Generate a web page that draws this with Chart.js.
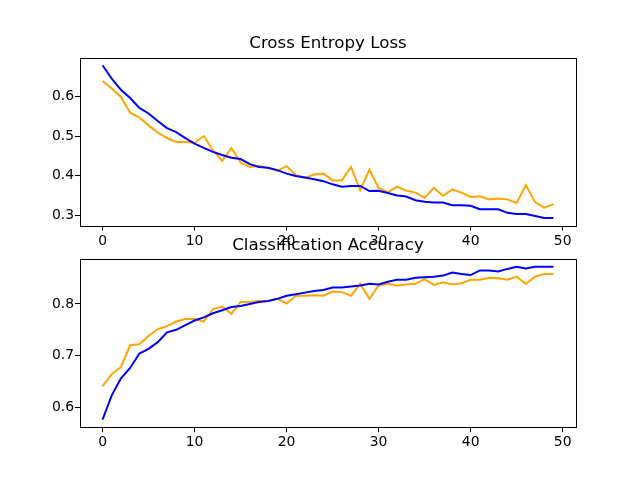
<!DOCTYPE html>
<html>
<head>
<meta charset="utf-8">
<script src="https://cdn.jsdelivr.net/npm/chart.js@4.4.1/dist/chart.umd.min.js"></script>
<style>
  html, body { margin: 0; padding: 0; background: #fff; }
  #wrap { position: relative; width: 640px; height: 480px; overflow: hidden; }
  canvas { position: absolute; left: 0; }
  #chartLoss { top: 0; }
  #chartAcc { top: 230px; }
</style>
</head>
<body>
<div id="wrap">
  <canvas id="chartLoss" width="640" height="260"></canvas>
  <canvas id="chartAcc" width="640" height="250"></canvas>
</div>
<script>
'use strict';

// ─── Data ─────────────────────────────────────────────────────────────────────
const epochs = [0, 1, 2, 3, 4, 5, 6, 7, 8, 9, 10, 11, 12, 13, 14, 15, 16, 17, 18, 19,
  20, 21, 22, 23, 24, 25, 26, 27, 28, 29, 30, 31, 32, 33, 34, 35, 36, 37, 38, 39,
  40, 41, 42, 43, 44, 45, 46, 47, 48, 49];

const trainLoss = [0.679, 0.645, 0.617, 0.596, 0.571, 0.557, 0.538, 0.520, 0.510, 0.495,
  0.481, 0.470, 0.460, 0.452, 0.445, 0.442, 0.429, 0.422, 0.420, 0.414,
  0.405, 0.399, 0.395, 0.391, 0.386, 0.378, 0.372, 0.374, 0.374, 0.361,
  0.362, 0.356, 0.350, 0.347, 0.338, 0.334, 0.332, 0.332, 0.325, 0.325,
  0.324, 0.315, 0.315, 0.315, 0.306, 0.303, 0.303, 0.298, 0.293, 0.293];

const valLoss = [0.639, 0.620, 0.599, 0.559, 0.547, 0.527, 0.509, 0.495, 0.485, 0.485,
  0.483, 0.500, 0.464, 0.437, 0.470, 0.433, 0.422, 0.425, 0.419, 0.412,
  0.424, 0.401, 0.395, 0.403, 0.405, 0.388, 0.388, 0.422, 0.363, 0.415,
  0.369, 0.358, 0.372, 0.362, 0.357, 0.344, 0.369, 0.349, 0.365, 0.357,
  0.346, 0.348, 0.340, 0.342, 0.340, 0.331, 0.376, 0.333, 0.319, 0.328];

const trainAcc = [0.576, 0.623, 0.656, 0.676, 0.704, 0.713, 0.726, 0.745, 0.750, 0.759,
  0.768, 0.774, 0.782, 0.788, 0.794, 0.796, 0.800, 0.804, 0.806, 0.810,
  0.816, 0.819, 0.822, 0.825, 0.827, 0.832, 0.832, 0.834, 0.836, 0.839,
  0.838, 0.843, 0.847, 0.847, 0.851, 0.852, 0.853, 0.855, 0.861, 0.858,
  0.856, 0.865, 0.865, 0.863, 0.868, 0.872, 0.869, 0.872, 0.872, 0.872];

const valAcc = [0.641, 0.664, 0.678, 0.720, 0.722, 0.738, 0.751, 0.757, 0.766, 0.771,
  0.771, 0.766, 0.790, 0.795, 0.781, 0.804, 0.804, 0.806, 0.806, 0.810,
  0.801, 0.816, 0.816, 0.817, 0.816, 0.824, 0.823, 0.816, 0.839, 0.810,
  0.836, 0.839, 0.836, 0.838, 0.839, 0.848, 0.837, 0.842, 0.838, 0.840,
  0.847, 0.847, 0.851, 0.850, 0.847, 0.853, 0.839, 0.853, 0.858, 0.858];

const xTicks = [0, 10, 20, 30, 40, 50];
const lossTicks = [0.3, 0.4, 0.5, 0.6];
const accTicks = [0.6, 0.7, 0.8];

// ─── Helpers ──────────────────────────────────────────────────────────────────
const FONT = "'DejaVu Sans', sans-serif";
const TICK_PX = 13.9;
const BLUE = '#0000ff';
const ORANGE = '#ffa500';

// matplotlib-style autoscale: 5% margin on each side
function padRange(values) {
  const lo = Math.min(...values), hi = Math.max(...values);
  const m = (hi - lo) * 0.05;
  return { min: lo - m, max: hi + m };
}

// black box round the plot area, drawn over the lines like mpl spines
const frame = {
  id: 'frame',
  afterDraw(chart) {
    const a = chart.chartArea, ctx = chart.ctx;
    ctx.save();
    ctx.strokeStyle = '#000';
    ctx.lineWidth = 1;
    ctx.strokeRect(Math.round(a.left) + 0.5, Math.round(a.top) + 0.5,
      Math.round(a.right - a.left), Math.round(a.bottom - a.top));
    ctx.restore();
  }
};

// centre the title over the plot area only (mpl style), not over the y axis too
const titleOverPlot = {
  id: 'titleOverPlot',
  afterLayout(chart) {
    const t = chart.titleBlock, a = chart.chartArea;
    if (!t) return;
    t.left = a.left;
    t.right = a.right;
    t.width = a.right - a.left;
  }
};

function axis(range, tickVals, fmt, fitSize, isX) {
  return {
    type: 'linear',
    min: range.min,
    max: range.max,
    afterBuildTicks: s => { s.ticks = tickVals.map(v => ({ value: v })); },
    afterFit: s => { if (isX) s.height = fitSize; else s.width = fitSize; },
    ticks: {
      color: '#000',
      font: { family: FONT, size: TICK_PX },
      padding: isX ? 2 : 1,
      maxRotation: 0,
      autoSkip: false,
      callback: v => fmt(v),
    },
    grid: {
      drawOnChartArea: false,
      drawTicks: true,
      tickLength: 5,
      tickColor: '#000',
      tickWidth: 1,
    },
    border: { display: false },
  };
}

function lossLine(label, data, color) {
  return {
    label: label,
    data: data,
    borderColor: color,
    backgroundColor: color,
    borderWidth: 2,
    pointRadius: 0,
    tension: 0,
    fill: false,
  };
}

function makeChart(id, title, titlePad, series, yTicks, xAxisHeight) {
  const all = [].concat(...series.map(s => s.data));
  const xRange = padRange(epochs);
  return new Chart(document.getElementById(id), {
    type: 'line',
    data: { labels: epochs, datasets: series },
    options: {
      responsive: false,
      animation: false,
      events: [],
      layout: { padding: { left: 0, right: 64, top: 0, bottom: 0 } },
      plugins: {
        legend: { display: false },
        tooltip: { enabled: false },
        title: {
          display: true,
          text: title,
          color: '#000',
          font: { family: FONT, size: 16.67, weight: 'normal', lineHeight: 1.2 },
          padding: titlePad,
        },
      },
      scales: {
        x: axis(xRange, xTicks, v => String(v), xAxisHeight, true),
        y: axis(padRange(all), yTicks, v => v.toFixed(1), 80, false),
      },
    },
    plugins: [frame, titleOverPlot],
  });
}

// ─── Charts ───────────────────────────────────────────────────────────────────
makeChart('chartLoss', 'Cross Entropy Loss', { top: 34, bottom: 3.6 },
  [lossLine('train', trainLoss, BLUE), lossLine('test', valLoss, ORANGE)],
  lossTicks, 34.4);

makeChart('chartAcc', 'Classification Accuracy', { top: 5.6, bottom: 3.6 },
  [lossLine('train', trainAcc, BLUE), lossLine('test', valAcc, ORANGE)],
  accTicks, 52.8);
</script>
</body>
</html>
